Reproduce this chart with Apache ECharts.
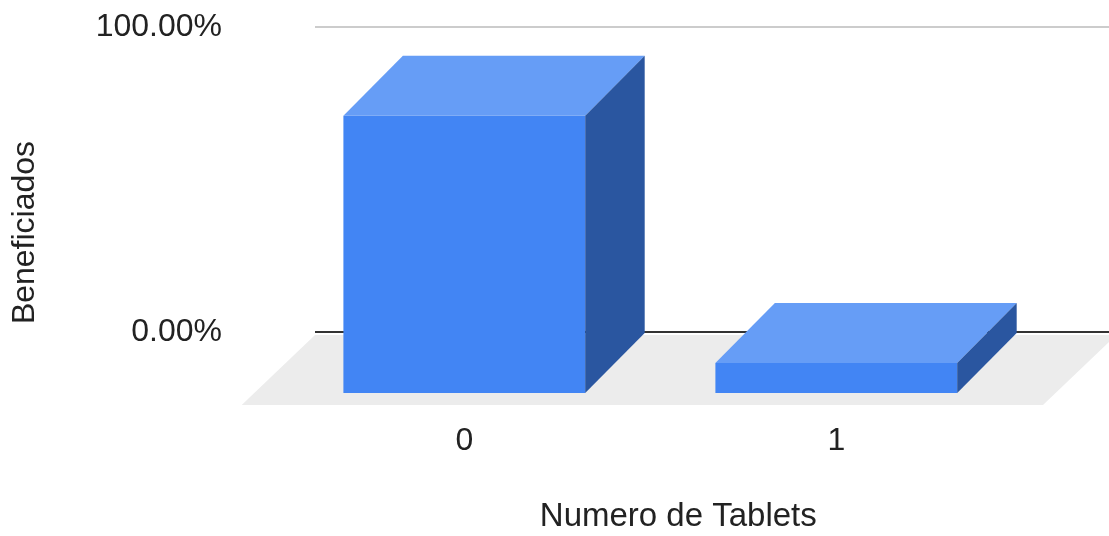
<!DOCTYPE html>
<html>
<head>
<meta charset="utf-8">
<style>
  html, body { margin: 0; padding: 0; background: #ffffff; }
  #chart { width: 1109px; height: 536px; }
</style>
<script src="https://cdn.jsdelivr.net/npm/echarts@6/dist/echarts.min.js"></script>
</head>
<body>
<div id="chart"></div>
<script>
// ---- data ----
const categories = ['0', '1'];
const beneficiados = [0.909, 0.098];
const yTickValues = [0, 1];
const yTickLabels = ['0.00%', '100.00%'];
const xAxisName = 'Numero de Tablets';
const yAxisName = 'Beneficiados';

const FONT = '"Liberation Sans", Arial, sans-serif';
const COL_FRONT = '#4285f4';
const COL_TOP = '#669df6';
const COL_SIDE = '#2a56a0';
const COL_FLOOR = '#ececec';

const chart = echarts.init(document.getElementById('chart'), null, { renderer: 'canvas' });

function renderBar(params, api) {
  const xi = api.value(0);
  const v = api.value(1);
  const base = api.coord([xi, 0]);
  const top = api.coord([xi, v]);
  const bw = api.size([1, 0])[0] * 0.65;
  const l = base[0] - bw / 2;
  const r = base[0] + bw / 2;
  const dx = 59.5, dy = -60;
  const children = [];
  if (params.dataIndex === 0) {
    const cs = params.coordSys;
    const fy = base[1] + 12;
    const fl = cs.x - 36.6;
    const fr = cs.x + cs.width + 20.7;
    const fdx = 73.3, fdy = -70;
    children.push({
      type: 'polygon',
      shape: { points: [[fl, fy], [fr, fy], [fr + fdx, fy + fdy], [fl + fdx, fy + fdy]] },
      style: { fill: COL_FLOOR }
    });
  }
  children.push({
    type: 'rect',
    shape: { x: l, y: top[1], width: bw, height: base[1] - top[1] },
    style: { fill: COL_FRONT }
  });
  children.push({
    type: 'polygon',
    shape: { points: [[l, top[1]], [r, top[1]], [r + dx, top[1] + dy], [l + dx, top[1] + dy]] },
    style: { fill: COL_TOP }
  });
  children.push({
    type: 'polygon',
    shape: { points: [[r, top[1]], [r + dx, top[1] + dy], [r + dx, base[1] + dy], [r, base[1]]] },
    style: { fill: COL_SIDE }
  });
  return { type: 'group', children: children };
}

const option = {
  backgroundColor: '#ffffff',
  animation: false,
  grid: [
    // back wall (gridlines + percent labels)
    { left: 315, right: 0, top: 27, bottom: 204, containLabel: false, outerBoundsMode: 'none' },
    // front plane (bars + category labels)
    { left: 278.3, right: 86.7, top: 88, bottom: 143, containLabel: false, outerBoundsMode: 'none' }
  ],
  xAxis: [
    { gridIndex: 0, type: 'category', data: categories, show: false },
    {
      gridIndex: 1, type: 'category', data: categories,
      axisLine: { show: false }, axisTick: { show: false },
      axisLabel: { fontSize: 32, fontFamily: FONT, color: '#222', margin: 32, lineHeight: 32 },
      name: xAxisName, nameLocation: 'middle', nameGap: 107,
      nameTextStyle: { fontSize: 33, fontFamily: FONT, color: '#222', lineHeight: 33, padding: [0, 0, 0, 56] }
    }
  ],
  yAxis: [
    {
      gridIndex: 0, type: 'value', min: 0, max: 1, interval: 1,
      axisLine: { show: false }, axisTick: { show: false },
      axisLabel: {
        fontSize: 32, fontFamily: FONT, color: '#222', margin: 93,
        formatter: function (val) {
          const i = yTickValues.indexOf(val);
          return i >= 0 ? yTickLabels[i] : '';
        }
      },
      splitLine: { show: true, lineStyle: { color: ['#333333', '#cccccc'], width: 2 } }
    },
    {
      gridIndex: 1, type: 'value', min: 0, max: 1, interval: 1,
      axisLine: { show: false }, axisTick: { show: false },
      axisLabel: { show: false }, splitLine: { show: false },
      name: yAxisName, nameLocation: 'middle', nameRotate: 90, nameGap: 237,
      nameTextStyle: { fontSize: 32, fontFamily: FONT, color: '#222', lineHeight: 32, padding: [0, 0, 0, 16] }
    }
  ],
  series: [
    {
      type: 'custom',
      xAxisIndex: 1,
      yAxisIndex: 1,
      clip: false,
      renderItem: renderBar,
      encode: { x: 0, y: 1 },
      data: categories.map(function (c, i) { return [i, beneficiados[i]]; }),
      z: 5
    }
  ]
};

chart.setOption(option);
</script>
</body>
</html>
